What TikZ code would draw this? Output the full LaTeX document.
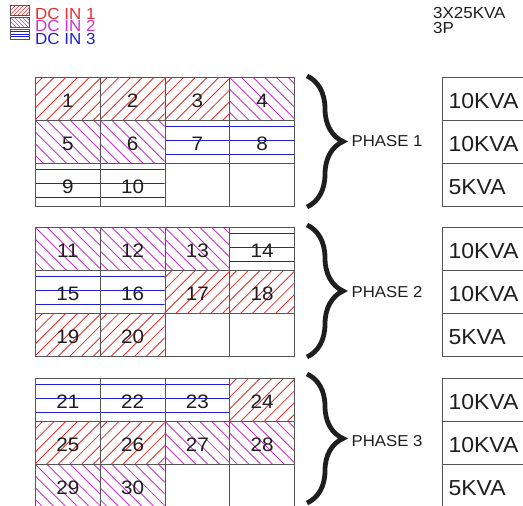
\documentclass[tikz,border=0pt]{standalone}
\usepackage{fontspec}
\setmainfont{Liberation Sans}[FakeStretch=1.06]
\usetikzlibrary{decorations.pathreplacing}
\definecolor{hred}{RGB}{228,48,48}
\definecolor{hmag}{RGB}{204,51,204}
\definecolor{hblue}{RGB}{30,30,210}
\definecolor{gline}{RGB}{85,85,85}
\definecolor{tx}{RGB}{30,30,30}
% hatch fillers: #1 x, #2 y (top-left, y downward)
\newcommand{\hatchr}[2]{\foreach \k in {-5,...,6}{\draw[redhatch] ([xshift=\k*11.7pt]#1,#2+43) -- ++(50,-50);}}
\newcommand{\hatchm}[2]{\foreach \k in {-5,...,6}{\draw[maghatch] ([xshift=\k*11.7pt]#1,#2) -- ++(50,50);}}
\newcommand{\hatchb}[2]{\foreach \o in {6.5,20.5,34.5}{\draw[bluehatch] (#1,#2+\o) -- ++(64.75,0);}}
\newcommand{\hatche}[2]{}
\newcommand{\gridcell}[5]{%
  \begin{scope}
    \clip (#2,#3) rectangle ++(64.75,43);
    \csname hatch#1\endcsname{#2}{#3}
  \end{scope}
  \node[cellbox] (#4) at (#2,#3) {#5};}
\begin{document}
\begin{tikzpicture}[x=1pt,y=-1pt,
  redhatch/.style={draw=hred, line width=0.85pt},
  maghatch/.style={draw=hmag, line width=0.85pt},
  bluehatch/.style={draw=hblue, line width=1.2pt},
  cellbox/.style={draw=gline, line width=1.1pt, minimum width=64.75pt, minimum height=43pt,
    inner sep=0pt, anchor=north west, font=\fontsize{19.5}{21}\selectfont, text=tx,
    text height=16.8pt, text depth=0pt},
  kvabox/.style={draw=gline, line width=1.1pt, minimum height=43pt, text width=100pt, inner xsep=6pt,
    inner ysep=0pt, align=left, anchor=north west, font=\fontsize{21.7}{23}\selectfont, text=tx,
    text height=19.5pt, text depth=0pt},
  bracestyle/.style={decorate, decoration={brace, amplitude=36pt}, line width=4.8pt, draw=tx},
  phaselbl/.style={anchor=west, inner sep=0pt, font=\fontsize{15.8}{17}\selectfont, text=tx,
    text height=11pt, text depth=0pt},
  legbox/.style={draw=gline, line width=0.9pt, minimum width=19pt, minimum height=10pt, inner sep=0pt, anchor=north west},
  legtext/.style={anchor=base west, inner sep=0pt, font=\fontsize{16}{17}\selectfont},
  toptext/.style={anchor=base west, inner sep=0pt, font=\fontsize{16}{17}\selectfont, text=tx}
]
\useasboundingbox (0,0) rectangle (523,506);
% legend
\begin{scope}
  \clip (10,5) rectangle ++(19,10);
  \foreach \k in {-4,...,8}{\draw[draw=hred, line width=0.7pt] ([xshift=\k*4pt]10,15) -- ++(15,-15);}
\end{scope}
\begin{scope}
  \clip (10,17) rectangle ++(19,10);
  \foreach \k in {-4,...,8}{\draw[draw=hmag, line width=0.7pt] ([xshift=\k*4pt]10,17) -- ++(15,15);}
\end{scope}
\foreach \o in {31.5,34,36.5}{\draw[draw=hblue, line width=1pt] (10,\o) -- ++(19,0);}
\node[legbox] (l1) at (10,5) {};
\node[legbox] (l2) at (10,17) {};
\node[legbox] (l3) at (10,29) {};
\node[legtext, text=hred] (t1) at (35,19.5) {DC IN 1};
\node[legtext, text=hmag] (t2) at (35,31.7) {DC IN 2};
\node[legtext, text=hblue] (t3) at (35,44) {DC IN 3};
% top right
\node[toptext] (tr1) at (433,18.5) {3X25KVA};
\node[toptext] (tr2) at (433,33.5) {3P};
% phase 1
\gridcell{r}{35}{77}{c1}{1}
\gridcell{r}{99.75}{77}{c2}{2}
\gridcell{r}{164.5}{77}{c3}{3}
\gridcell{m}{229.25}{77}{c4}{4}
\gridcell{m}{35}{120}{c5}{5}
\gridcell{m}{99.75}{120}{c6}{6}
\gridcell{b}{164.5}{120}{c7}{7}
\gridcell{b}{229.25}{120}{c8}{8}
\gridcell{b}{35}{163}{c9}{9}
\gridcell{b}{99.75}{163}{c10}{10}
\gridcell{e}{164.5}{163}{e1a}{}
\gridcell{e}{229.25}{163}{e1b}{}
% phase 2
\gridcell{m}{35}{227}{c11}{11}
\gridcell{m}{99.75}{227}{c12}{12}
\gridcell{m}{164.5}{227}{c13}{13}
\gridcell{b}{229.25}{227}{c14}{14}
\gridcell{b}{35}{270}{c15}{15}
\gridcell{b}{99.75}{270}{c16}{16}
\gridcell{r}{164.5}{270}{c17}{17}
\gridcell{r}{229.25}{270}{c18}{18}
\gridcell{r}{35}{313}{c19}{19}
\gridcell{r}{99.75}{313}{c20}{20}
\gridcell{e}{164.5}{313}{e2a}{}
\gridcell{e}{229.25}{313}{e2b}{}
% phase 3
\gridcell{b}{35}{378}{c21}{21}
\gridcell{b}{99.75}{378}{c22}{22}
\gridcell{b}{164.5}{378}{c23}{23}
\gridcell{r}{229.25}{378}{c24}{24}
\gridcell{r}{35}{421}{c25}{25}
\gridcell{r}{99.75}{421}{c26}{26}
\gridcell{m}{164.5}{421}{c27}{27}
\gridcell{m}{229.25}{421}{c28}{28}
\gridcell{m}{35}{464}{c29}{29}
\gridcell{m}{99.75}{464}{c30}{30}
\gridcell{e}{164.5}{464}{e3a}{}
\gridcell{e}{229.25}{464}{e3b}{}
% braces
\coordinate (b1t) at (307,76);
\coordinate (b1b) at (307,207);
\coordinate (b2t) at (307,225);
\coordinate (b2b) at (307,357);
\coordinate (b3t) at (307,374);
\coordinate (b3b) at (307,503);
\draw[bracestyle] (b1t) -- (b1b);
\draw[bracestyle] (b2t) -- (b2b);
\draw[bracestyle] (b3t) -- (b3b);
\node[phaselbl] (p1) at (351.5,141) {PHASE 1};
\node[phaselbl] (p2) at (351.5,292) {PHASE 2};
\node[phaselbl] (p3) at (351.5,441) {PHASE 3};
% kva boxes
\node[kvabox] (k11) at (442,77) {10KVA};
\node[kvabox] (k12) at (442,120) {10KVA};
\node[kvabox] (k13) at (442,163) {5KVA};
\node[kvabox] (k21) at (442,227) {10KVA};
\node[kvabox] (k22) at (442,270) {10KVA};
\node[kvabox] (k23) at (442,313) {5KVA};
\node[kvabox] (k31) at (442,378) {10KVA};
\node[kvabox] (k32) at (442,421) {10KVA};
\node[kvabox] (k33) at (442,464) {5KVA};
\end{tikzpicture}
\end{document}
